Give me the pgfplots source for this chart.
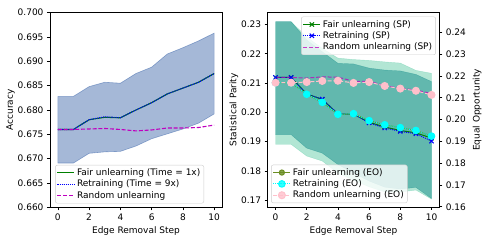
\documentclass[border=0pt]{standalone}
\usepackage{pgfplots}
\pgfplotsset{compat=1.18}
\usepackage{pgfplotstable}
\usepackage{fontspec}
\setmainfont{DejaVu Sans}
\definecolor{sbblue}{RGB}{76,114,176}
\definecolor{mgreen}{RGB}{0,128,0}
\definecolor{mblue}{RGB}{0,0,255}
\definecolor{mmag}{RGB}{191,0,191}
\definecolor{olived}{RGB}{107,142,35}
\definecolor{mcyan}{RGB}{0,255,255}
\definecolor{mpink}{RGB}{255,192,203}
\definecolor{maqua}{RGB}{102,205,170}
\definecolor{mteal}{RGB}{0,128,128}

\pgfplotstableread{
x fair retrain rand
0 0.6760 0.6760 0.6760
1 0.6760 0.6760 0.6760
2 0.6780 0.6780 0.6761
3 0.6785 0.6786 0.6762
4 0.6784 0.6784 0.6760
5 0.6800 0.6800 0.6757
6 0.6815 0.6815 0.6759
7 0.6833 0.6833 0.6763
8 0.6845 0.6845 0.6763
9 0.6857 0.6857 0.6764
10 0.6875 0.6875 0.6769
}\tblacc
% band: upper edge (x = 0..10) then lower edge (x = 10..0)
\pgfplotstableread{
x y
0 0.6828
1 0.6828
2 0.6848
3 0.6857
4 0.6855
5 0.6875
6 0.6888
7 0.6915
8 0.6928
9 0.6942
10 0.6958
10 0.6792
9 0.6773
8 0.6761
7 0.6751
6 0.6741
5 0.6726
4 0.6715
3 0.6714
2 0.6711
1 0.6691
0 0.6691
0 0.6828
}\bandacc

\pgfplotstableread{
x fair retrain rand
0 0.2119 0.2119 0.2119
1 0.2119 0.2119 0.2119
2 0.2063 0.2062 0.2117
3 0.2044 0.2045 0.2121
4 0.1994 0.1995 0.2120
5 0.1994 0.1995 0.2106
6 0.1966 0.1964 0.2106
7 0.1950 0.1947 0.2091
8 0.1938 0.1935 0.2082
9 0.1930 0.1927 0.2076
10 0.1912 0.1902 0.2064
}\tblsp
\pgfplotstableread{
x y
0 0.2309
1 0.2309
2 0.2257
3 0.2218
4 0.2185
5 0.2180
6 0.2177
7 0.2172
8 0.2168
9 0.2143
10 0.2133
10 0.1704
9 0.1735
8 0.1728
7 0.1729
6 0.1746
5 0.1769
4 0.1793
3 0.1834
2 0.1851
1 0.1891
0 0.1891
0 0.2309
}\bandsp

\pgfplotstableread{
x fair retrain rand
0 0.2169 0.2169 0.2169
1 0.2169 0.2169 0.2169
2 0.2116 0.2116 0.2172
3 0.2079 0.2079 0.2177
4 0.2024 0.2024 0.2178
5 0.2027 0.2027 0.2168
6 0.1995 0.1995 0.2172
7 0.1976 0.1976 0.2154
8 0.1963 0.1963 0.2142
9 0.1950 0.1950 0.2132
10 0.1924 0.1924 0.2113
}\tbleo
\pgfplotstableread{
x y
0 0.2449
1 0.2449
2 0.2365
3 0.2311
4 0.2258
5 0.2255
6 0.2236
7 0.2227
8 0.2223
9 0.2207
10 0.2174
10 0.1638
9 0.1689
8 0.1681
7 0.1690
6 0.1718
5 0.1755
4 0.1794
3 0.1846
2 0.1869
1 0.1931
0 0.1931
0 0.2449
}\bandeo

\pgfplotsset{
  base/.style={
    scale only axis,
    font=\fontsize{9}{10.8}\selectfont,
    tick label style={font=\fontsize{9}{10.8}\selectfont},
    /pgf/number format/assume math mode=true,
    xmin=-0.5, xmax=10.5,
    xtick={0,2,4,6,8,10},
    tick align=outside,
    major tick length=3pt,
    tick style={black, line width=0.6pt},
    axis line style={line width=0.6pt},
    legend style={font=\fontsize{9}{10.8}\selectfont, draw=black!20, fill=white, fill opacity=0.8, text opacity=1, rounded corners=2pt, inner sep=1.5pt, row sep=-1pt},
    legend cell align=left,
  },
}

\begin{document}
\begin{tikzpicture}
\path[use as bounding box] (0,0) rectangle (485pt,243pt);

% ---------- Left panel ----------
\begin{axis}[base,
  at={(50pt,35.7pt)}, anchor=south west,
  width=172pt, height=194.6pt,
  ymin=0.660, ymax=0.700,
  ytick={0.660,0.665,0.670,0.675,0.680,0.685,0.690,0.695,0.700},
  yticklabel style={/pgf/number format/.cd, fixed, fixed zerofill, precision=3},
  xlabel={Edge Removal Step}, ylabel={Accuracy},
  xlabel style={yshift=1pt}, ylabel style={yshift=-4pt},
  xtick pos=bottom, ytick pos=left,
  legend style={at={(0.03,0.02)}, anchor=south west},
]
\addplot[fill=sbblue, fill opacity=0.5, draw=sbblue, draw opacity=0.6, line width=0.6pt, forget plot] table[x=x,y=y]{\bandacc};
\addplot[mgreen, line width=1.1pt] table[x=x,y=fair]{\tblacc};
\addlegendentry{Fair unlearning (Time = 1x)}
\addplot[mblue, line width=1.1pt, densely dotted] table[x=x,y=retrain]{\tblacc};
\addlegendentry{Retraining (Time = 9x)}
\addplot[mmag, line width=1.1pt, dash pattern=on 4pt off 1.8pt] table[x=x,y=rand]{\tblacc};
\addlegendentry{Random unlearning}
\end{axis}

% ---------- Right panel: SP band with frame ----------
\begin{axis}[base,
  at={(267.7pt,36pt)}, anchor=south west,
  width=171.6pt, height=194.3pt,
  ymin=0.1677, ymax=0.234,
  ytick={0.17,0.18,0.19,0.20,0.21,0.22,0.23},
  yticklabel style={/pgf/number format/.cd, fixed, fixed zerofill, precision=2},
  xlabel={Edge Removal Step}, ylabel={Statistical Parity},
  xlabel style={yshift=1pt}, ylabel style={yshift=-4pt},
  xtick pos=bottom, ytick pos=left,
]
\addplot[fill=maqua, fill opacity=0.5, draw=maqua, draw opacity=0.5, forget plot] table[x=x,y=y]{\bandsp};
\end{axis}

% ---------- Right panel: EO band, right axis ----------
\begin{axis}[base,
  at={(267.7pt,36pt)}, anchor=south west,
  width=171.6pt, height=194.3pt,
  ymin=0.1599, ymax=0.249,
  axis y line*=right, axis x line=none,
  ytick={0.16,0.17,0.18,0.19,0.20,0.21,0.22,0.23,0.24},
  yticklabel style={/pgf/number format/.cd, fixed, fixed zerofill, precision=2},
  ylabel={Equal Opportunity},
]
\addplot[fill=mteal, fill opacity=0.45, draw=mteal, draw opacity=0.35, forget plot] table[x=x,y=y]{\bandeo};
\end{axis}

% ---------- Right panel: SP lines ----------
\begin{axis}[base,
  at={(267.7pt,36pt)}, anchor=south west,
  width=171.6pt, height=194.3pt,
  ymin=0.1677, ymax=0.234,
  hide axis,
  legend style={at={(0.98,0.98)}, anchor=north east},
]
\addplot[mgreen, line width=1pt, mark=x, mark size=3pt] table[x=x,y=fair]{\tblsp};
\addlegendentry{Fair unlearning (SP)}
\addplot[mblue, line width=1pt, densely dotted, mark=x, mark size=3pt, mark options={solid}] table[x=x,y=retrain]{\tblsp};
\addlegendentry{Retraining (SP)}
\addplot[mmag, draw opacity=0.75, line width=1pt, dash pattern=on 4pt off 1.8pt] table[x=x,y=rand]{\tblsp};
\addlegendentry{Random unlearning (SP)}
\end{axis}

% ---------- Right panel: EO lines ----------
\begin{axis}[base,
  at={(267.7pt,36pt)}, anchor=south west,
  width=171.6pt, height=194.3pt,
  ymin=0.1599, ymax=0.249,
  hide axis,
  legend style={at={(0.02,0.02)}, anchor=south west},
]
\addplot[olived, line width=1pt, mark=*, mark size=2.6pt] table[x=x,y=fair]{\tbleo};
\addlegendentry{Fair unlearning (EO)}
\addplot[mcyan, line width=1pt, densely dotted, mark=*, mark size=3.3pt, mark options={solid}] table[x=x,y=retrain]{\tbleo};
\addlegendentry{Retraining (EO)}
\addplot[mpink, line width=1pt, dash pattern=on 4pt off 1.8pt, mark=*, mark size=3.5pt, mark options={solid}] table[x=x,y=rand]{\tbleo};
\addlegendentry{Random unlearning (EO)}
\end{axis}
\end{tikzpicture}
\end{document}
